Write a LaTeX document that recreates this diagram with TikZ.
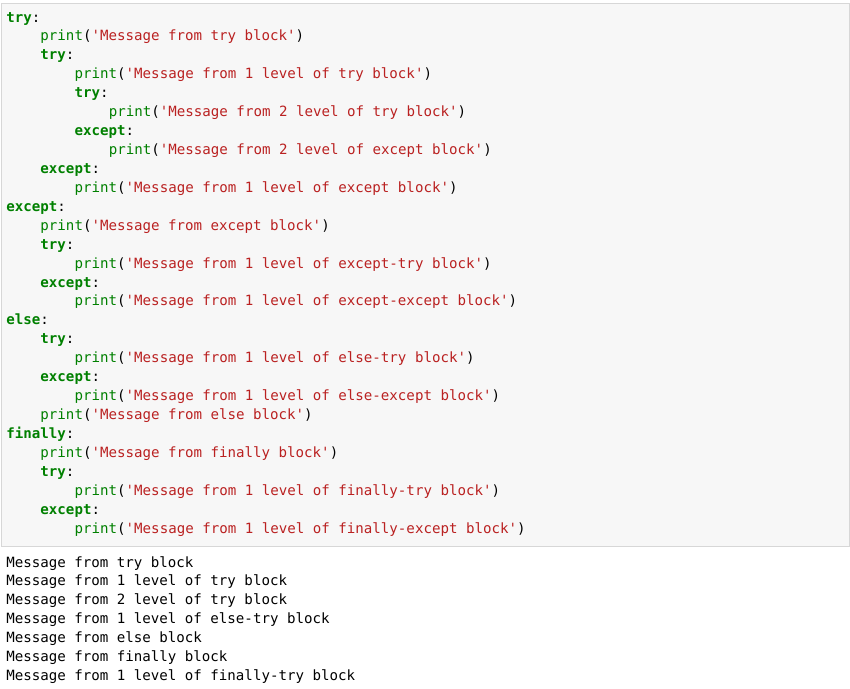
\documentclass[tikz,border=0pt]{standalone}
\usepackage{fontspec}
\setmonofont{DejaVu Sans Mono}
\definecolor{kwgreen}{RGB}{0,128,0}
\definecolor{strred}{RGB}{186,33,33}
\definecolor{cellgray}{RGB}{247,247,247}
\definecolor{cellborder}{RGB}{215,215,215}
\newcommand{\kw}[1]{\textcolor{kwgreen}{\bfseries #1}:}
\newcommand{\pr}[1]{\textcolor{kwgreen}{print}(\textcolor{strred}{'#1'})}
\begin{document}
\begin{tikzpicture}[x=0.75pt,y=-0.75pt,
  line/.style={anchor=base west,inner sep=0pt,font=\ttfamily\fontsize{10.6}{12}\selectfont}]

% Frame and cell
\useasboundingbox (0,0) rectangle (850,689);
\fill[white] (0,0) rectangle (850,689);
\draw[cellborder,fill=cellgray] (1,3) rectangle (849,546);

% Parameters
\def\dy{18.93}
\def\ind{34.2}

% Code lines
\foreach \lvl/\txt [count=\i] in {
  0/\kw{try}, 1/\pr{Message from try block}, 1/\kw{try},
  2/\pr{Message from 1 level of try block}, 2/\kw{try},
  3/\pr{Message from 2 level of try block}, 2/\kw{except},
  3/\pr{Message from 2 level of except block}, 1/\kw{except},
  2/\pr{Message from 1 level of except block}, 0/\kw{except},
  1/\pr{Message from except block}, 1/\kw{try},
  2/\pr{Message from 1 level of except-try block}, 1/\kw{except},
  2/\pr{Message from 1 level of except-except block}, 0/\kw{else},
  1/\kw{try}, 2/\pr{Message from 1 level of else-try block}, 1/\kw{except},
  2/\pr{Message from 1 level of else-except block}, 1/\pr{Message from else block},
  0/\kw{finally}, 1/\pr{Message from finally block}, 1/\kw{try},
  2/\pr{Message from 1 level of finally-try block}, 1/\kw{except},
  2/\pr{Message from 1 level of finally-except block}} {
  \node[line] (code\i) at ({6+\lvl*\ind},{22+(\i-1)*\dy}) {\txt};
}

% Output lines
\foreach \txt [count=\i] in {
  Message from try block, Message from 1 level of try block,
  Message from 2 level of try block, Message from 1 level of else-try block,
  Message from else block, Message from finally block,
  Message from 1 level of finally-try block} {
  \node[line] (out\i) at (6,{567+(\i-1)*\dy}) {\txt};
}
\end{tikzpicture}
\end{document}
